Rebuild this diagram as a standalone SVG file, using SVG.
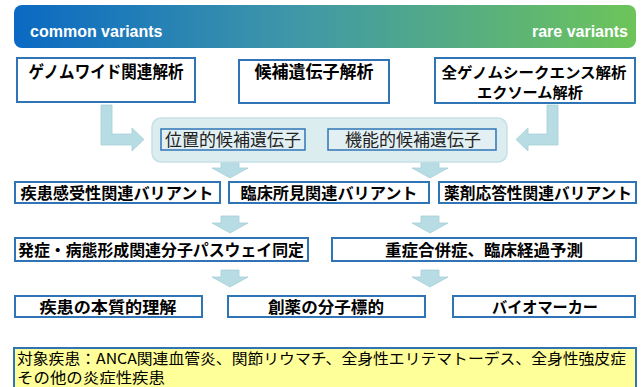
<svg xmlns="http://www.w3.org/2000/svg" width="643" height="387" viewBox="0 0 643 387">
<defs>
<linearGradient id="band" x1="0" y1="0" x2="1" y2="0">
<stop offset="0" stop-color="#0a69c3"/>
<stop offset="0.45" stop-color="#3f97a8"/>
<stop offset="1" stop-color="#6dc45a"/>
</linearGradient>
<style>
.box{fill:#ffffff;stroke:#2f75b5;stroke-width:2}
.ibox{fill:#e2f0f3;stroke:#2f75b5;stroke-width:1.5}
.b{font-family:"Noto Sans CJK JP","Noto Sans",sans-serif;font-weight:bold;font-size:17px;fill:#000;text-anchor:middle}
.r{font-size:16px}
.s{font-size:15px}
.n{font-family:"Noto Sans CJK JP","Noto Sans",sans-serif;font-size:17px;fill:#222;text-anchor:middle}
.y{font-family:"Noto Sans CJK JP","Noto Sans",sans-serif;font-size:15px;fill:#000}
.band{font-family:"Liberation Sans",Arial,sans-serif;font-weight:bold;font-size:16px;fill:#fff}
.arr{fill:#b8dce3;stroke:#a6cfd8;stroke-width:0.8}
</style>
</defs>
<g id="banner">
<rect x="14" y="5" width="622" height="43" rx="8" fill="url(#band)"/>
<text class="band" x="30" y="37">common variants</text>
<text class="band" x="628" y="37" text-anchor="end">rare variants</text>
</g>
<g id="connectors">
<polygon class="arr" points="101,105 112,105 112,134 132,134 132,128 144,139.5 132,151 132,145 101,145"/>
<polygon class="arr" points="558,105 547,105 547,134 528,134 528,128 516,139.5 528,151 528,145 558,145"/>
<polygon class="arr" points="221,162 239,162 239,168 248,168 230,178 212,168 221,168"/>
<polygon class="arr" points="421,162 439,162 439,168 448,168 430,178 412,168 421,168"/>
<polygon class="arr" points="221,216 239,216 239,223 248,223 230,233 212,223 221,223"/>
<polygon class="arr" points="421,216 439,216 439,223 448,223 430,233 412,223 421,223"/>
<polygon class="arr" points="221,270 239,270 239,277 248,277 230,287 212,277 221,277"/>
<polygon class="arr" points="421,270 439,270 439,277 448,277 430,287 412,277 421,277"/>
</g>
<g id="gwas">
<rect class="box" x="17" y="58" width="178" height="44"/>
<text class="b" x="106" y="78" textLength="155" lengthAdjust="spacingAndGlyphs">ゲノムワイド関連解析</text>
</g>
<g id="candidate">
<rect class="box" x="239" y="60" width="150" height="43"/>
<text class="b" x="314" y="78">候補遺伝子解析</text>
</g>
<g id="wgs">
<rect class="box" x="435" y="58" width="200" height="45"/>
<text class="b s" x="534" y="77.5" textLength="185" lengthAdjust="spacingAndGlyphs">全ゲノムシークエンス解析</text>
<text class="b s" x="530" y="97.5" textLength="106" lengthAdjust="spacingAndGlyphs">エクソーム解析</text>
</g>
<g id="candidates">
<rect x="152" y="118" width="355" height="44" rx="9" fill="#dcedf0" stroke="#c6e0e6" stroke-width="1.5"/>
<g id="positional">
<rect class="ibox" x="161" y="129" width="144" height="21"/>
<text class="n" x="233" y="146">位置的候補遺伝子</text>
</g>
<g id="functional">
<rect class="ibox" x="328" y="129" width="168" height="21"/>
<text class="n" x="413" y="146">機能的候補遺伝子</text>
</g>
</g>
<g id="susceptibility">
<rect class="box" x="15" y="182" width="205" height="21"/>
<text class="b r" x="117" y="199" textLength="193" lengthAdjust="spacingAndGlyphs">疾患感受性関連バリアント</text>
</g>
<g id="clinical">
<rect class="box" x="229" y="182" width="200" height="21"/>
<text class="b r" x="329" y="199" textLength="177" lengthAdjust="spacingAndGlyphs">臨床所見関連バリアント</text>
</g>
<g id="drug">
<rect class="box" x="439" y="182" width="197" height="21"/>
<text class="b r" x="538" y="199" textLength="188" lengthAdjust="spacingAndGlyphs">薬剤応答性関連バリアント</text>
</g>
<g id="pathway">
<rect class="box" x="15" y="238" width="293" height="23"/>
<text class="b r" x="161" y="255.5" textLength="286" lengthAdjust="spacingAndGlyphs">発症・病態形成関連分子パスウェイ同定</text>
</g>
<g id="prognosis">
<rect class="box" x="332" y="238" width="304" height="23"/>
<text class="b r" x="484" y="255.5" textLength="198" lengthAdjust="spacingAndGlyphs">重症合併症、臨床経過予測</text>
</g>
<g id="understanding">
<rect class="box" x="15" y="296" width="187" height="21"/>
<text class="b r" x="108" y="313" textLength="137" lengthAdjust="spacingAndGlyphs">疾患の本質的理解</text>
</g>
<g id="target">
<rect class="box" x="228" y="296" width="197" height="21"/>
<text class="b r" x="326" y="313" textLength="116" lengthAdjust="spacingAndGlyphs">創薬の分子標的</text>
</g>
<g id="biomarker">
<rect class="box" x="453" y="296" width="182" height="21"/>
<text class="b r" x="545" y="313" textLength="106" lengthAdjust="spacingAndGlyphs">バイオマーカー</text>
</g>
<g id="diseases">
<rect x="14" y="348" width="622" height="45" fill="#ffff99" stroke="#2f75b5" stroke-width="2"/>
<text class="y" x="17" y="364" textLength="609" lengthAdjust="spacingAndGlyphs">対象疾患：ANCA関連血管炎、関節リウマチ、全身性エリテマトーデス、全身性強皮症</text>
<text class="y" x="17" y="383" textLength="148" lengthAdjust="spacingAndGlyphs">その他の炎症性疾患</text>
</g>
</svg>
